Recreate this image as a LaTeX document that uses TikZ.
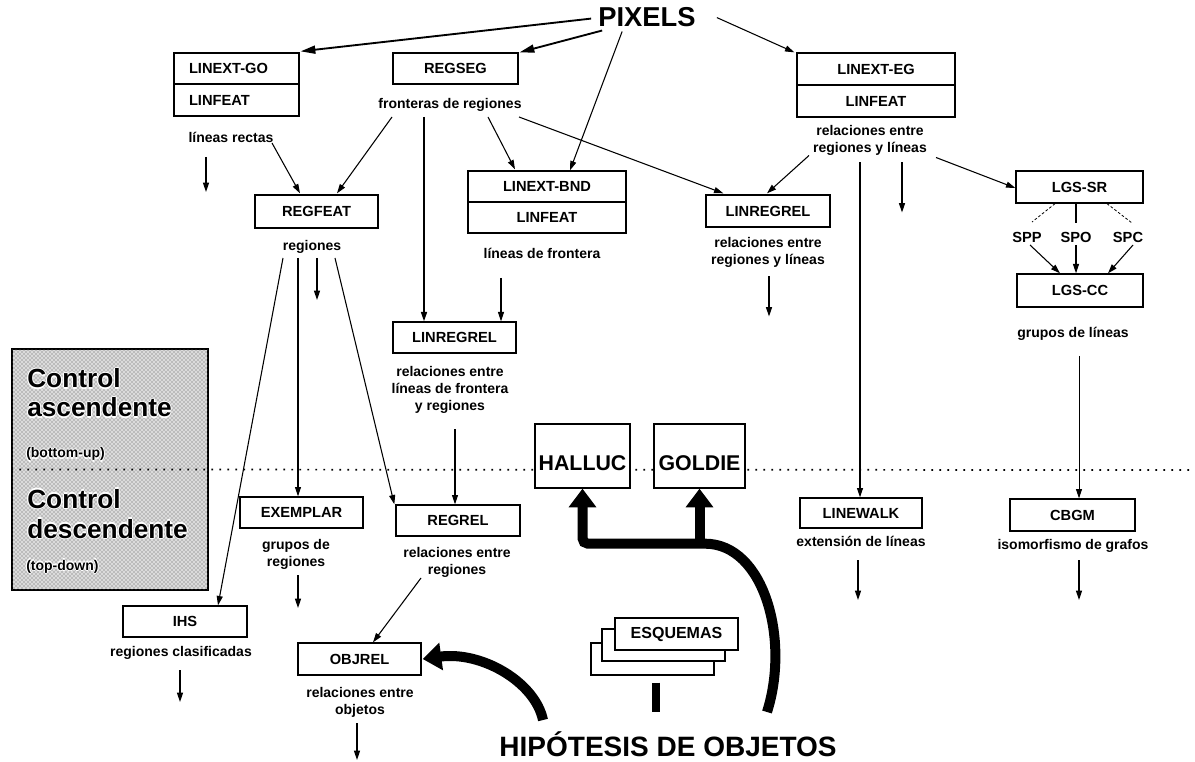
\documentclass[tikz,border=0pt]{standalone}
\usepackage{fontspec}
\setmainfont{Liberation Sans}
\usetikzlibrary{arrows.meta,calc,patterns}

% bold label with a thin white outline, for text set on the dithered panel
\newcommand\haloed[1]{\leavevmode
  \rlap{\color{white}\kern-0.8pt#1}\rlap{\color{white}\kern0.8pt#1}%
  \rlap{\color{white}\raisebox{0.8pt}{#1}}\rlap{\color{white}\raisebox{-0.8pt}{#1}}#1}

\begin{document}
\begin{tikzpicture}[x=0.75pt,y=-0.75pt,
  sz/.style 2 args={minimum width=#1*0.75pt, minimum height=#2*0.75pt},
  box/.style={draw, line width=1pt, fill=white, inner sep=0pt,
    font=\bfseries\fontsize{11}{13}\selectfont},
  capt/.style={inner sep=0pt, align=center,
    font=\bfseries\fontsize{10.5}{12.75}\selectfont},
  lab/.style={inner sep=0pt, font=\bfseries\fontsize{11}{13}\selectfont},
  conn/.style={line width=0.8pt},
  finedash/.style={line width=0.6pt, dash pattern=on 2pt off 1.5pt},
  arr/.style={conn, -{Triangle[length=7pt,width=4.5pt]}},
  bigarr/.style={line width=1.4pt, -{Triangle[length=11pt,width=6pt]}},
  fat/.style={line width=7.5pt},
  fatarr/.style={fat, -{Triangle[length=14pt,width=20pt]}},
  ctrl/.style={inner sep=0pt, anchor=base west,
    font=\bfseries\fontsize{19.7}{22}\selectfont},
  ctrlsub/.style={inner sep=0pt, anchor=base west,
    font=\bfseries\fontsize{10.5}{12}\selectfont},
  bigbox/.style={box, font=\bfseries\fontsize{16}{18}\selectfont,
    text height=22pt, text depth=0pt},
]
\useasboundingbox (0,0) rectangle (1195,762);
\fill[white] (0,0) rectangle (1195,762);

% ---- shaded control panel and the dotted boundary line ----
\node[draw, line width=1pt, sz={196}{241}, fill=black!14, inner sep=0pt]
  (control) at (110,469.5) {};
\fill[pattern=crosshatch dots, pattern color=black!65]
  (control.south west) rectangle (control.north east);
\draw[line width=1pt] (control.south west) rectangle (control.north east);
\coordinate (dotend) at (1195,470);
\draw[line width=1.3pt, dash pattern=on 1.3pt off 4.7pt] (control.west) -- (dotend);

\node[ctrl] (ctrlA) at (27,388) {\haloed{Control}};
\node[ctrl] (ctrlB) at (27,417) {\haloed{ascendente}};
\node[ctrlsub] (ctrlC) at (26,458) {\haloed{(bottom-up)}};
\node[ctrl] (ctrlD) at (27,508) {\haloed{Control}};
\node[ctrl] (ctrlE) at (27,538) {\haloed{descendente}};
\node[ctrlsub] (ctrlF) at (26,570) {\haloed{(top-down)}};

% ---- titles ----
\node[inner sep=0pt, anchor=base, font=\bfseries\fontsize{20.5}{24}\selectfont]
  (pixels) at (647,27) {PIXELS};
\node[inner sep=0pt, anchor=base, font=\bfseries\fontsize{21}{24}\selectfont]
  (hipo) at (668,756) {HIPÓTESIS DE OBJETOS};

% ---- modules ----
\node[box, sz={125}{31}, text width=71.25pt, align=left] (linextgo) at (236.5,68.5) {LINEXT-GO};
\node[box, sz={125}{32}, text width=71.25pt, align=left] (linfeatA) at (236.5,100) {LINFEAT};
\node[box, sz={125}{31}] (regseg) at (455.5,68.5) {REGSEG};
\node[box, sz={158}{32}] (linexteg) at (876,69) {LINEXT-EG};
\node[box, sz={158}{32}] (linfeatC) at (876,101) {LINFEAT};
\node[box, sz={158}{31}] (linextbnd) at (547,186.5) {LINEXT-BND};
\node[box, sz={158}{31}] (linfeatB) at (547,217.5) {LINFEAT};
\node[box, sz={123}{33}] (regfeat) at (316.5,211.5) {REGFEAT};
\node[box, sz={124}{32}] (linregrelR) at (768,211) {LINREGREL};
\node[box, sz={127}{32}] (lgssr) at (1079.5,187) {LGS-SR};
\node[box, sz={126}{33}] (lgscc) at (1080,290.5) {LGS-CC};
\node[box, sz={123}{31}] (linregrelM) at (454.5,337.5) {LINREGREL};
\node[bigbox, sz={95}{64}] (halluc) at (582.5,456) {HALLUC};
\node[bigbox, sz={91}{64}] (goldie) at (699.5,456) {GOLDIE};
\node[box, sz={123}{31}] (exemplar) at (301.5,512.5) {EXEMPLAR};
\node[box, sz={124}{31}] (regrel) at (458,520.5) {REGREL};
\node[box, sz={122}{30}] (linewalk) at (861,513) {LINEWALK};
\node[box, sz={125}{32}] (cbgm) at (1072.5,515) {CBGM};
\node[box, sz={124}{31}] (ihs) at (185,621.5) {IHS};
\node[box, sz={123}{32}] (objrel) at (359.5,659) {OBJREL};
\node[box, sz={123}{32}] (esqC) at (652.5,659) {};
\node[box, sz={123}{32}] (esqB) at (663.5,645) {};
\node[box, sz={123}{32}, font=\bfseries\fontsize{12}{14}\selectfont] (esq) at (676.5,634) {ESQUEMAS};

% ---- captions ----
\node[capt] (rectas) at (231,137) {líneas rectas};
\node[capt] (frontreg) at (450,105) {fronteras de regiones};
\node[capt] (relEG) at (870,140.5) {relaciones entre\\regiones y líneas};
\node[capt] (regiones) at (312,247) {regiones};
\node[capt] (lineasfront) at (542,253) {líneas de frontera};
\node[capt] (relR) at (768,252.5) {relaciones entre\\regiones y líneas};
\node[capt] (gruposlineas) at (1073,334) {grupos de líneas};
\node[capt] (relM) at (450,389.5) {relaciones entre\\líneas de frontera\\y regiones};
\node[capt] (grupReg) at (296,554) {grupos de\\regiones};
\node[capt] (relRegrel) at (457,562.5) {relaciones entre\\regiones};
\node[capt] (extlin) at (861,541) {extensión de líneas};
\node[capt] (isomorf) at (1073,546) {isomorfismo de grafos};
\node[capt] (regclas) at (181,653) {regiones clasificadas};
\node[capt] (relObj) at (360,702) {relaciones entre\\objetos};
\node[lab] (spp) at (1027,237) {SPP};
\node[lab] (spo) at (1076,237) {SPO};
\node[lab] (spc) at (1128,237) {SPC};

% ---- free ends of the short output arrows ----
\coordinate (rectasEnd) at ($(rectas)+(-25,55)$);
\coordinate (regionesEnd) at ($(regiones)+(5,53)$);
\coordinate (relEGEnd) at ($(relEG)+(32,72)$);
\coordinate (relREnd) at ($(relR)+(1,64)$);
\coordinate (extlinEnd) at ($(extlin)+(-3,59)$);
\coordinate (isomorfEnd) at ($(isomorf)+(6,54)$);
\coordinate (grupRegEnd) at ($(grupReg)+(2,54)$);
\coordinate (regclasEnd) at ($(regclas)+(-1,49)$);
\coordinate (relObjEnd) at ($(relObj)+(-3,58)$);

% ---- connectors from PIXELS ----
\draw[bigarr] ($(pixels.west)+(-7,1)$) -- ($(linextgo.north east)+(1,-1)$);
\draw[bigarr] ($(pixels.south west)+(4,3)$) -- ($(regseg.north east)+(1,0)$);
\draw[arr] ($(pixels.south west)+(24,4)$) -- ($(linextbnd.north)+(23,0)$);
\draw[arr] ($(pixels.east)+(21,0)$) -- ($(linexteg.north west)+(-2,0)$);

% ---- region branch ----
\draw[arr] ($(frontreg)+(-58,12)$) -- ($(regfeat.north)+(20.5,-1)$);
\draw[arr, line width=1.1pt] ($(frontreg)+(-26,12)$) -- ($(linregrelM.north)+(-30.5,0)$);
\draw[arr] ($(frontreg)+(38,12)$) -- ($(linextbnd.north)+(-32,-1)$);
\draw[arr] ($(frontreg)+(69,12)$) -- ($(linregrelR.north west)+(18,-1)$);
\draw[arr] ($(rectas)+(41,6)$) -- ($(regfeat.north)+(-16.5,-1)$);
\draw[arr] ($(rectas)+(-25,20)$) -- (rectasEnd);

\draw[arr] ($(regiones)+(-29,11)$) -- ($(ihs.north)+(33,0)$);
\draw[arr] ($(regiones)+(5,11)$) -- (regionesEnd);
\draw[arr] ($(regiones)+(-14,11)$) -- ($(exemplar.north)+(-3.5,0)$);
\draw[arr] ($(regiones)+(23,11)$) -- ($(regrel.north west)+(-1,0)$);

\draw[arr] ($(lineasfront)+(-41,25)$) -- ($(linregrelM.north)+(46.5,0)$);
\draw[arr] ($(relM)+(5,40)$) -- ($(regrel.north)+(-3,0)$);
\draw[arr] ($(relRegrel)+(-36,15.5)$) -- ($(objrel.north)+(13.5,0)$);
\draw[arr] ($(grupReg)+(2,21)$) -- (grupRegEnd);
\draw[arr] ($(regclas)+(-1,17)$) -- (regclasEnd);
\draw[arr] ($(relObj)+(-3,21)$) -- (relObjEnd);

% ---- line branch ----
\draw[arr] ($(relEG)+(-61,15)$) -- ($(linregrelR.north)+(-1,-1)$);
\draw[arr, line width=0.9pt] ($(relEG)+(-10,22)$) -- ($(linewalk.north)+(-1,0)$);
\draw[arr] ($(relEG)+(32,22)$) -- (relEGEnd);
\draw[arr] ($(relEG)+(66,17)$) -- ($(lgssr.west)+(0,1)$);
\draw[arr] ($(relR)+(1,24)$) -- (relREnd);

\draw[finedash] ($(lgssr.south)+(-24.5,0)$) -- ($(spp)+(5,-15)$);
\draw[conn] ($(lgssr.south)+(-3.5,0)$) -- ($(spo)+(0,-14)$);
\draw[finedash] ($(lgssr.south)+(27.5,0)$) -- ($(spc)+(4,-14)$);
\draw[arr] ($(spp)+(3,8)$) -- ($(lgscc.north)+(-20,0)$);
\draw[arr] ($(spo)+(0,8)$) -- ($(lgscc.north)+(-4,0)$);
\draw[arr] ($(spc)+(5,8)$) -- ($(lgscc.north)+(28,0)$);
\draw[arr, line width=0.6pt] ($(gruposlineas)+(6,22)$) -- ($(cbgm.north)+(6.5,0)$);
\draw[arr] ($(extlin)+(-3,19)$) -- (extlinEnd);
\draw[arr] ($(isomorf)+(6,14)$) -- (isomorfEnd);

% ---- object hypotheses feedback ----
\coordinate (hipL) at ($(hipo.base)+(-125,-36)$);
\draw[fatarr] (hipL) .. controls ($(hipL)+(-8,-38)$) and ($(objrel.east)+(60,-8)$)
  .. ($(objrel.east)+(1,0)$);
\coordinate (hipR) at ($(hipo.base)+(99,-44)$);
\coordinate (fork) at ($(goldie.south)+(0,55)$);
\draw[fatarr, rounded corners=4pt] (hipR) .. controls ($(hipR)+(23,-72)$) and ($(fork)+(65,0)$)
  .. (fork) -- (halluc.south |- fork) -- (halluc.south);
\draw[fatarr] ($(fork)+(0,2)$) -- (goldie.south);
\draw[line width=6pt] ($(esqC.south)+(3.5,7)$) -- ($(hipo.base)+(-12,-44)$);
\end{tikzpicture}
\end{document}
